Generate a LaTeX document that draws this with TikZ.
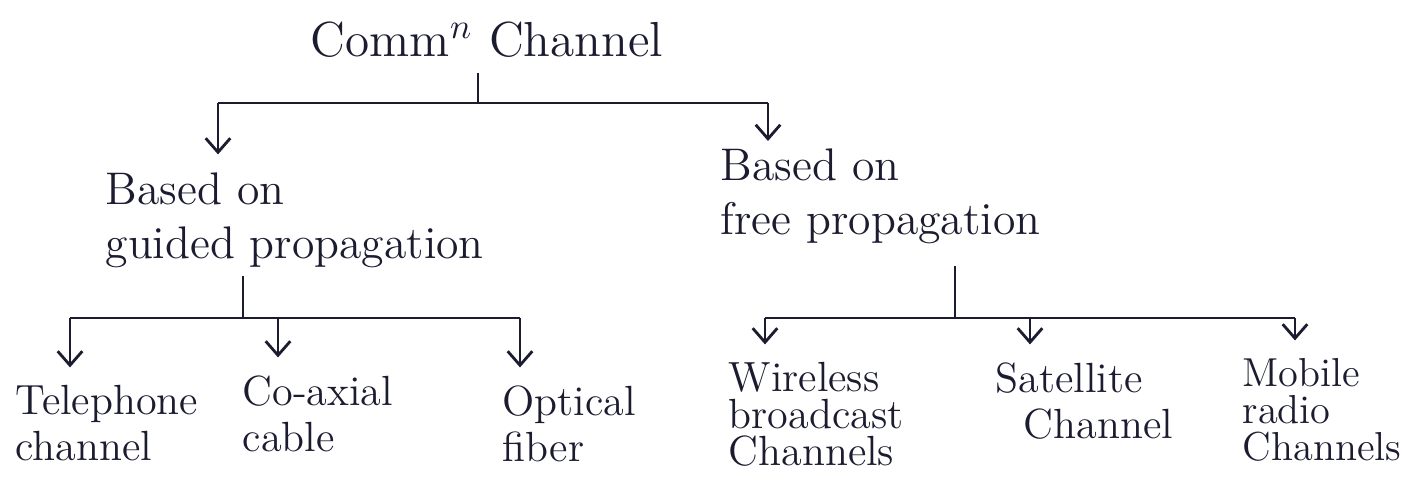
\documentclass[tikz,border=0pt]{standalone}
\usepackage{tikz}
\usetikzlibrary{arrows.meta}
\definecolor{ink}{RGB}{28,28,48}
\tikzset{
  lbl/.style={inner sep=0pt, anchor=north west, align=left, text=ink, font=\fontsize{13}{15.5}\selectfont},
  leaf/.style={lbl, font=\fontsize{12}{13}\selectfont},
  wire/.style={ink, line width=0.8pt},
  arr/.style={wire, -{Straight Barb[length=4pt,width=7pt]}, shorten >=5pt},
}
\begin{document}
\begin{tikzpicture}[x=0.01cm, y=-0.01cm]
        \useasboundingbox (0,0) rectangle (1402,492);

        \node[lbl, anchor=center, font=\fontsize{14}{16}\selectfont] (comm) at (487,40) {Comm$^n$ Channel};
        \node[lbl] (guided) at (105,172) {Based on\\guided propagation};
        \node[lbl] (free) at (720,148) {Based on\\free propagation};

        \node[leaf] (tele) at (15,385) {Telephone\\channel};
        \node[leaf] (coax) at (242,375) {Co-axial\\cable};
        \node[leaf] (optic) at (502,385) {Optical\\fiber};
        \node[leaf] (wireless) at (728,362) {Wireless\\[-2.5pt]broadcast\\[-2.5pt]Channels};
        \node[leaf] (sat) at (995,362) {Satellite\\\hspace*{8pt}Channel};
        \node[leaf, font=\fontsize{11.5}{12.5}\selectfont] (mobile) at (1242,358) {Mobile\\[-2pt]radio\\[-2pt]Channels};

        \coordinate (j0) at (478,103);
        \coordinate (a1) at (218,103);
        \coordinate (a2) at (768,103);
        \coordinate (j1) at (243,318);
        \coordinate (b1) at (70,318);
        \coordinate (b2) at (278,318);
        \coordinate (b3) at (520,318);
        \coordinate (j2) at (955,318);
        \coordinate (c1) at (765,318);
        \coordinate (c2) at (1030,318);
        \coordinate (c3) at (1295,318);

        \draw[wire] ([yshift=-4pt]comm.south -| j0) -- (j0);
        \draw[wire] (a1) -- (a2);
        \draw[arr, shorten >=5pt] (a1) -- (a1 |- guided.north);
        \draw[arr, shorten >=2pt] (a2) -- (a2 |- free.north);

        \draw[wire] ([yshift=-2pt]guided.south -| j1) -- (j1);
        \draw[wire] (b1) -- (b3);
        \draw[arr] (b1) -- (b1 |- tele.north);
        \draw[arr] (b2) -- (b2 |- coax.north);
        \draw[arr] (b3) -- (b3 |- optic.north);

        \draw[wire] ([yshift=-6pt]free.south -| j2) -- (j2);
        \draw[wire] (c1) -- (c3);
        \draw[arr] (c1) -- (c1 |- wireless.north);
        \draw[arr] (c2) -- (c2 |- sat.north);
        \draw[arr] (c3) -- (c3 |- mobile.north);
\end{tikzpicture}
\end{document}
